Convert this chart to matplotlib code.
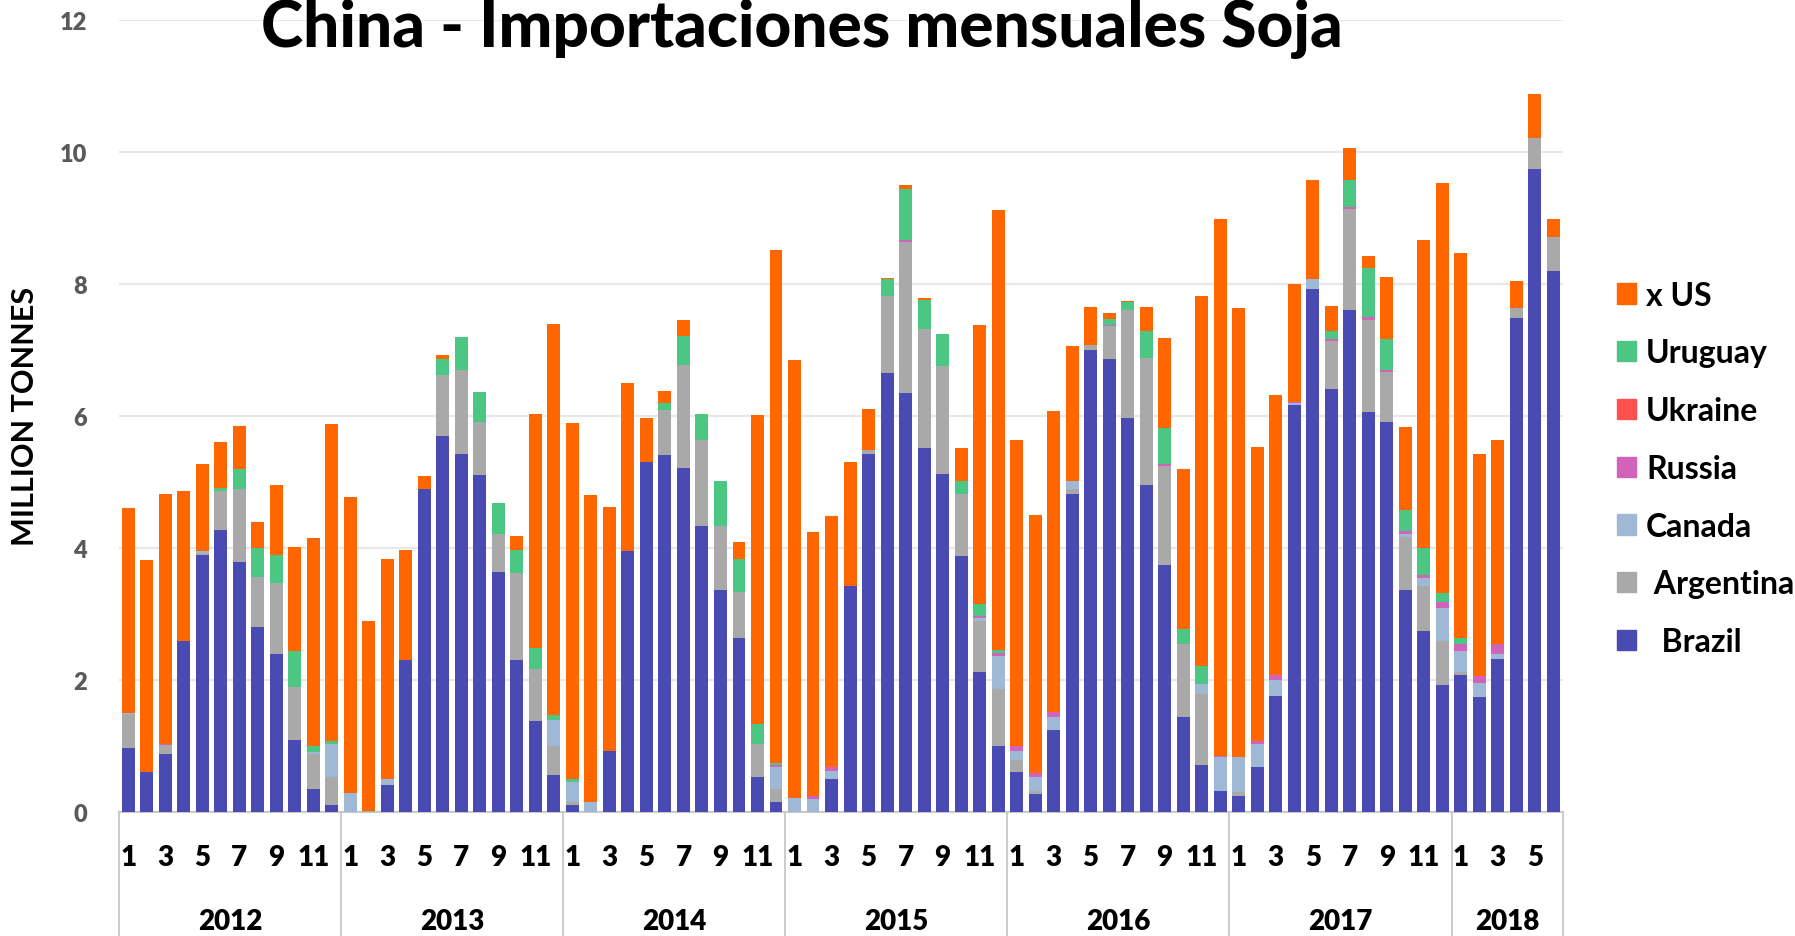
import matplotlib
matplotlib.use("Agg")
import matplotlib.pyplot as plt
import matplotlib.transforms as mtransforms
from matplotlib.patches import Patch
import numpy as np

# monthly soybean imports into China, million tonnes, Jan 2012 .. Jun 2018
years = ["2012", "2013", "2014", "2015", "2016", "2017", "2018"]
months_per_year = [12, 12, 12, 12, 12, 12, 6]

brazil = [
    0.97, 0.61, 0.88, 2.59, 3.90, 4.28, 3.79, 2.80, 2.39, 1.09, 0.36, 0.11,
    0.00, 0.00, 0.41, 2.31, 4.90, 5.69, 5.42, 5.10, 3.64, 2.31, 1.38, 0.57,
    0.11, 0.00, 0.93, 3.96, 5.31, 5.41, 5.21, 4.33, 3.36, 2.64, 0.53, 0.16,
    0.00, 0.00, 0.50, 3.42, 5.42, 6.65, 6.35, 5.52, 5.12, 3.88, 2.12, 1.01,
    0.61, 0.27, 1.25, 4.82, 7.00, 6.86, 5.97, 4.95, 3.75, 1.44, 0.72, 0.32,
    0.25, 0.68, 1.76, 6.16, 7.92, 6.41, 7.61, 6.06, 5.91, 3.37, 2.75, 1.93,
    2.08, 1.75, 2.32, 7.49, 9.74, 8.20,
]
argentina = [
    0.52, 0.00, 0.14, 0.00, 0.03, 0.59, 1.11, 0.76, 1.08, 0.81, 0.52, 0.43,
    0.00, 0.02, 0.00, 0.00, 0.00, 0.93, 1.27, 0.81, 0.57, 1.32, 0.79, 0.44,
    0.05, 0.00, 0.00, 0.00, 0.00, 0.68, 1.56, 1.31, 0.97, 0.70, 0.51, 0.20,
    0.00, 0.00, 0.00, 0.00, 0.07, 1.17, 2.28, 1.79, 1.63, 0.94, 0.77, 0.86,
    0.18, 0.05, 0.00, 0.07, 0.08, 0.50, 1.63, 1.93, 1.50, 1.11, 1.07, 0.00,
    0.05, 0.00, 0.00, 0.00, 0.00, 0.72, 1.52, 1.40, 0.75, 0.80, 0.68, 0.66,
    0.05, 0.00, 0.00, 0.14, 0.47, 0.51,
]
canada = [
    0.02, 0.00, 0.00, 0.00, 0.02, 0.00, 0.00, 0.00, 0.00, 0.00, 0.03, 0.50,
    0.29, 0.00, 0.10, 0.00, 0.00, 0.00, 0.00, 0.00, 0.00, 0.00, 0.00, 0.39,
    0.30, 0.16, 0.00, 0.00, 0.00, 0.00, 0.00, 0.00, 0.00, 0.00, 0.00, 0.32,
    0.22, 0.20, 0.13, 0.00, 0.00, 0.00, 0.00, 0.00, 0.00, 0.00, 0.05, 0.50,
    0.14, 0.22, 0.19, 0.12, 0.00, 0.00, 0.00, 0.00, 0.00, 0.00, 0.15, 0.51,
    0.53, 0.36, 0.25, 0.03, 0.15, 0.00, 0.00, 0.00, 0.00, 0.05, 0.11, 0.51,
    0.31, 0.21, 0.08, 0.00, 0.00, 0.00,
]
russia = [
    0.00, 0.00, 0.02, 0.00, 0.00, 0.00, 0.00, 0.00, 0.00, 0.00, 0.00, 0.00,
    0.00, 0.00, 0.00, 0.00, 0.00, 0.00, 0.00, 0.00, 0.00, 0.00, 0.00, 0.00,
    0.00, 0.00, 0.00, 0.00, 0.00, 0.00, 0.00, 0.00, 0.00, 0.00, 0.00, 0.03,
    0.00, 0.05, 0.05, 0.00, 0.00, 0.00, 0.03, 0.00, 0.00, 0.00, 0.03, 0.04,
    0.08, 0.06, 0.08, 0.00, 0.00, 0.02, 0.00, 0.00, 0.02, 0.00, 0.00, 0.03,
    0.00, 0.04, 0.07, 0.02, 0.00, 0.04, 0.03, 0.04, 0.04, 0.04, 0.05, 0.09,
    0.11, 0.11, 0.15, 0.00, 0.00, 0.00,
]
ukraine = [0.0] * 78
uruguay = [
    0.00, 0.00, 0.00, 0.00, 0.00, 0.04, 0.30, 0.44, 0.42, 0.54, 0.10, 0.04,
    0.00, 0.00, 0.00, 0.00, 0.00, 0.24, 0.50, 0.45, 0.48, 0.34, 0.31, 0.07,
    0.04, 0.00, 0.00, 0.00, 0.00, 0.10, 0.44, 0.39, 0.69, 0.50, 0.30, 0.03,
    0.00, 0.00, 0.00, 0.00, 0.00, 0.25, 0.77, 0.45, 0.49, 0.19, 0.18, 0.05,
    0.00, 0.00, 0.00, 0.00, 0.00, 0.09, 0.12, 0.41, 0.55, 0.22, 0.27, 0.00,
    0.00, 0.00, 0.00, 0.00, 0.00, 0.12, 0.41, 0.74, 0.46, 0.32, 0.41, 0.13,
    0.09, 0.00, 0.00, 0.00, 0.00, 0.00,
]
x_us = [
    3.09, 3.21, 3.78, 2.28, 1.32, 0.69, 0.65, 0.40, 1.06, 1.58, 3.14, 4.80,
    4.48, 2.87, 3.33, 1.66, 0.19, 0.06, 0.00, 0.00, 0.00, 0.21, 3.55, 5.92,
    5.40, 4.64, 3.69, 2.54, 0.66, 0.19, 0.25, 0.00, 0.00, 0.25, 4.68, 7.77,
    6.63, 3.99, 3.81, 1.89, 0.62, 0.02, 0.06, 0.03, 0.00, 0.51, 4.23, 6.66,
    4.63, 3.90, 4.56, 2.05, 0.57, 0.09, 0.02, 0.36, 1.36, 2.42, 5.61, 8.12,
    6.81, 4.45, 4.24, 1.79, 1.50, 0.38, 0.49, 0.18, 0.94, 1.26, 4.66, 6.20,
    5.82, 3.35, 3.09, 0.41, 0.66, 0.27,
]

series = [
    ("Brazil", brazil, "#4a4ab3"),
    ("Argentina", argentina, "#a9a9a9"),
    ("Canada", canada, "#9fb8d6"),
    ("Russia", russia, "#d163b8"),
    ("Ukraine", ukraine, "#ff5050"),
    ("Uruguay", uruguay, "#4cc783"),
    ("x US", x_us, "#ff6600"),
]
legend_names = {"Brazil": "  Brazil", "Argentina": " Argentina"}

plt.rcParams["font.family"] = ["Lato", "DejaVu Sans"]

fig = plt.figure(figsize=(17.95, 9.37), dpi=100)
ax = fig.add_axes([0.0663, 0.132, 0.8042, 0.846])

n = len(brazil)
x = np.arange(n)
bottom = np.zeros(n)
for name, vals, col in series:
    vals = np.array(vals)
    ax.bar(x, vals, 0.7, bottom=bottom, color=col, edgecolor="none", zorder=3)
    bottom += vals

ax.set_xlim(-0.5, n - 0.5)
ax.set_ylim(0, 12)
ax.set_yticks(range(0, 13, 2))
ax.grid(axis="y", color="#e8e8e8", linewidth=1.6, zorder=0)
for s in ["top", "right", "left"]:
    ax.spines[s].set_visible(False)
ax.spines["bottom"].set_color("#c8c8c8")
ax.spines["bottom"].set_linewidth(1.5)
ax.tick_params(axis="y", length=0, pad=23, labelsize=17, labelcolor="#5a5a5a")
for lbl in ax.get_yticklabels():
    lbl.set_fontweight("heavy")

# odd month numbers under the bars, year names under those
ticks, tlabels = [], []
start = 0
trans = mtransforms.blended_transform_factory(ax.transData, ax.transAxes)
for yr, cnt in zip(years, months_per_year):
    for m in range(1, cnt + 1, 2):
        ticks.append(start + m - 1)
        tlabels.append(str(m))
    ax.text(start + (cnt - 1) / 2, -0.137, yr, transform=trans, ha="center",
            va="center", fontsize=20, fontweight="heavy")
    ax.plot([start - 0.5, start - 0.5], [0, -0.2], transform=trans,
            color="#c8c8c8", lw=1.3, clip_on=False)
    start += cnt
ax.plot([start - 0.5, start - 0.5], [0, -0.2], transform=trans,
        color="#c8c8c8", lw=1.3, clip_on=False)
ax.set_xticks(ticks)
ax.set_xticklabels(tlabels, fontsize=20, fontweight="heavy")
ax.tick_params(axis="x", length=0, pad=23)

fig.text(0.014, 0.556, "MILLION TONNES", rotation=90, ha="center", va="center",
         fontsize=22, fontweight="bold")
fig.text(0.447, 0.969, "China - Importaciones mensuales Soja", ha="center",
         va="center", fontsize=46, fontweight="black")

handles = [Patch(color=col, label=legend_names.get(name, name))
           for name, vals, col in series[::-1]]
fig.legend(handles=handles, loc="center left", bbox_to_anchor=(0.885, 0.499),
           frameon=False, handlelength=0.6, handleheight=0.6,
           handletextpad=0.3, labelspacing=0.9,
           prop={"weight": "bold", "size": 23})

fig.savefig("out.png", dpi=100)
